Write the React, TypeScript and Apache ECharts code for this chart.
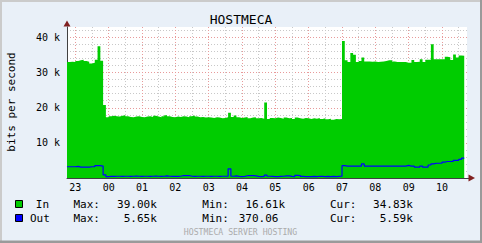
import React, { useEffect, useRef } from 'react';
import * as echarts from 'echarts';

// ---- time slots (5-minute steps from 22:45 to 10:45) ----
const START_MINUTES = 22 * 60 + 45;
const STEP_MINUTES = 5;
const SLOT_COUNT = 145;
const CATEGORIES: string[] = Array.from({ length: SLOT_COUNT }, (_, i) => {
  const m = (START_MINUTES + i * STEP_MINUTES) % (24 * 60);
  return `${String(Math.floor(m / 60)).padStart(2, '0')}:${String(m % 60).padStart(2, '0')}`;
});

const HOUR_LABELS = ['23', '00', '01', '02', '03', '04', '05', '06', '07', '08', '09', '10'];
const Y_LABELS = ['10 k', '20 k', '30 k', '40 k'];
const Y_MAX = 43;

// ---- series values, in k bits per second ----
const IN_K = [
  33.0, 33.1, 33.0, 33.3, 33.5, 33.7, 33.3, 33.1, 32.6, 32.8, 33.7, 37.5, 33.4, 20.8, 17.3,
  17.6, 17.7, 17.6, 17.5, 17.7, 17.9, 17.6, 17.4, 17.3, 17.5, 17.6, 17.4,
  17.3, 17.5, 17.6, 17.4, 17.7, 17.5, 17.3, 17.6, 17.9, 17.6, 17.4, 17.3,
  17.5, 17.4, 17.6, 17.5, 17.3, 17.6, 17.8, 17.5, 17.3, 17.4, 17.2, 17.3,
  17.2, 17.1, 17.3, 17.2, 17.0, 17.1, 17.3, 18.6, 17.4, 17.8, 17.3, 17.1,
  17.2, 17.4, 17.0, 17.2, 17.3, 17.0, 17.1, 16.9, 21.5, 16.8, 17.1, 17.0,
  17.2, 17.1, 16.9, 17.2, 17.0, 17.1, 16.8, 17.2, 17.0, 16.9, 17.1, 17.0,
  16.8, 17.0, 16.9, 17.1, 16.8, 17.0, 16.7, 16.9, 16.61, 16.8, 16.7, 16.8,
  39.0, 33.5, 33.0, 35.6, 35.1, 33.0, 33.3, 34.3, 33.2, 33.2, 33.1, 33.2,
  33.0, 33.1, 33.2, 33.3, 33.5, 33.5, 33.2, 33.0, 33.0, 33.0, 33.0, 32.8,
  32.8, 33.6, 33.0, 33.1, 33.8, 33.0, 33.7, 33.7, 38.1, 33.8, 33.8, 33.8,
  33.8, 34.5, 34.4, 33.6, 35.2, 34.3, 34.9, 34.8, 34.83,
];

const OUT_K = [
  3.2, 3.2, 3.2, 3.3, 3.1, 3.1, 3.1, 3.1, 3.2, 3.2, 3.5, 3.5, 3.4, 0.9, 0.4,
  0.5, 0.45, 0.5, 0.5, 0.45, 0.5, 0.5, 0.45, 0.5, 0.55, 0.5, 0.45,
  0.5, 0.5, 0.45, 0.5, 0.55, 0.5, 0.45, 0.5, 0.6, 0.5, 0.45, 0.5,
  0.45, 0.5, 0.7, 0.7, 0.7, 0.5, 0.45, 0.5, 0.5, 0.45, 0.5, 0.5,
  0.45, 0.5, 0.5, 0.45, 0.5, 0.5, 0.5, 2.6, 0.5, 0.6, 0.45, 0.4,
  0.45, 0.65, 0.65, 0.65, 0.6, 0.45, 0.4, 0.45, 0.8, 0.5, 0.45, 0.4,
  0.4, 0.45, 0.5, 0.6, 0.6, 0.45, 0.4, 0.75, 0.7, 0.45, 0.4, 0.37,
  0.4, 0.45, 0.4, 0.5, 0.45, 0.4, 0.45, 0.4, 0.45, 0.4, 0.45, 0.5,
  3.5, 3.4, 3.4, 3.4, 3.4, 3.4, 3.4, 4.0, 3.4, 3.4, 3.4, 3.4,
  3.4, 3.4, 3.4, 3.4, 3.4, 3.4, 3.4, 3.4, 3.4, 3.4, 3.4, 3.6,
  3.4, 3.4, 3.1, 3.1, 3.4, 3.1, 3.1, 3.7, 4.0, 4.2, 4.2, 4.2,
  4.5, 4.7, 4.7, 4.7, 5.0, 5.0, 5.3, 5.65, 5.59,
];

// ---- legend texts ----
const LEGEND_NAMES = ['In', 'Out'];
const LEGEND_COLORS = ['#00CC00', '#0000FF'];
const MAX_VALUES = ['39.00', '5.65'];
const MAX_UNITS = ['k', 'k'];
const MIN_VALUES = ['16.61', '370.06'];
const MIN_UNITS = ['k', ''];
const CUR_VALUES = ['34.83', '5.59'];
const CUR_UNITS = ['k', 'k'];

const TITLE = 'HOSTMECA';
const Y_TITLE = 'bits per second';
const FOOTER = 'HOSTMECA SERVER HOSTING';

export default function App() {
  const ref = useRef<HTMLDivElement>(null);

  useEffect(() => {
    if (!ref.current) return;
    const chart = echarts.init(ref.current, undefined, { renderer: 'svg' });
    const mono = "'DejaVu Sans Mono', monospace";
    const RED = '#E89A9A';
    const GRAY = '#C8C8C8';
    const AXIS = '#404040';
    const hourIdx = (i: number) => i % 12 === 3;
    const halfIdx = (i: number) => i % 12 === 9;

    const txt = (text: string, x: number, y: number, size: number, align: string, extra: any = {}) => ({
      type: 'text',
      x,
      y,
      silent: true,
      ...extra,
      style: {
        text,
        fill: extra.fill || '#000000',
        fontFamily: mono,
        fontSize: size,
        align,
        textAlign: align,
        verticalAlign: 'middle',
        textVerticalAlign: 'middle',
      },
    });

    const legendEls: any[] = [];
    const rowY = [204, 218];
    LEGEND_NAMES.forEach((name, r) => {
      const y = rowY[r];
      legendEls.push({
        type: 'rect',
        silent: true,
        shape: { x: 15.5, y: y - 3.5, width: 7, height: 7 },
        style: { fill: LEGEND_COLORS[r], stroke: '#000000', lineWidth: 1 },
      });
      legendEls.push(txt(name, r === 0 ? 35.8 : 30, y, 11, 'left'));
      legendEls.push(txt('Max:', 73.5, y, 11, 'left'));
      legendEls.push(txt(MAX_VALUES[r], 150.2, y, 11, 'right'));
      legendEls.push(txt(MAX_UNITS[r], 150.2, y, 11, 'left'));
      legendEls.push(txt('Min:', 202.3, y, 11, 'left'));
      legendEls.push(txt(MIN_VALUES[r], 278.5, y, 11, 'right'));
      legendEls.push(txt(MIN_UNITS[r], 278.5, y, 11, 'left'));
      legendEls.push(txt('Cur:', 330, y, 11, 'left'));
      legendEls.push(txt(CUR_VALUES[r], 406.2, y, 11, 'right'));
      legendEls.push(txt(CUR_UNITS[r], 406.2, y, 11, 'left'));
    });

    const option: any = {
      animation: false,
      backgroundColor: '#E9F0F8',
      grid: {
        left: 67,
        top: 27,
        width: 400,
        height: 151,
        show: true,
        backgroundColor: '#FFFFFF',
        borderWidth: 0,
      },
      xAxis: [
        {
          type: 'category',
          position: 'bottom',
          data: CATEGORIES,
          boundaryGap: false,
          axisLine: { show: false },
          axisTick: { show: false },
          axisLabel: { show: false },
          splitLine: {
            show: true,
            interval: (i: number) => halfIdx(i),
            lineStyle: { color: GRAY, type: [1, 2], width: 1 },
          },
        },
        {
          type: 'category',
          position: 'bottom',
          data: CATEGORIES,
          boundaryGap: false,
          axisLine: { show: true, lineStyle: { color: AXIS, width: 1 } },
          axisTick: { show: false },
          axisLabel: {
            interval: (i: number) => hourIdx(i),
            formatter: (_v: string, i: number) => (hourIdx(i) ? HOUR_LABELS[(i - 3) / 12] : ''),
            fontFamily: mono,
            fontSize: 10,
            color: '#000000',
            margin: 4,
          },
          splitLine: {
            show: true,
            interval: (i: number) => hourIdx(i),
            lineStyle: { color: RED, type: [1, 2], width: 1 },
          },
        },
      ],
      yAxis: [
        {
          type: 'value',
          position: 'left',
          min: 0,
          max: Y_MAX,
          interval: 2,
          axisLine: { show: false },
          axisTick: { show: false },
          axisLabel: { show: false },
          splitLine: {
            show: true,
            showMaxLine: false,
            lineStyle: { color: GRAY, type: [1, 2], width: 1 },
          },
        },
        {
          type: 'value',
          position: 'left',
          min: 0,
          max: Y_MAX,
          interval: 10,
          axisLine: { show: true, lineStyle: { color: AXIS, width: 1 } },
          axisTick: { show: false },
          axisLabel: {
            formatter: (v: number) => (v > 0 && v % 10 === 0 ? Y_LABELS[v / 10 - 1] : ''),
            fontFamily: mono,
            fontSize: 10,
            color: '#000000',
            margin: 7,
          },
          splitLine: {
            show: true,
            showMaxLine: false,
            lineStyle: { color: RED, type: [1, 2], width: 1 },
          },
        },
      ],
      series: [
        {
          type: 'line',
          name: 'In',
          xAxisIndex: 1,
          yAxisIndex: 1,
          data: IN_K,
          step: 'end',
          symbol: 'none',
          silent: true,
          lineStyle: { width: 0, color: '#00CC00' },
          itemStyle: { color: '#00CC00' },
          areaStyle: { color: '#00CC00', opacity: 1 },
          z: 2,
        },
        {
          type: 'line',
          name: 'Out',
          xAxisIndex: 1,
          yAxisIndex: 1,
          data: OUT_K,
          step: 'end',
          symbol: 'none',
          silent: true,
          lineStyle: { width: 1.2, color: '#0000FF' },
          itemStyle: { color: '#0000FF' },
          z: 3,
        },
      ],
      graphic: [
        { type: 'rect', silent: true, shape: { x: 0, y: 0, width: 482, height: 2 }, style: { fill: '#CBCBCB' } },
        { type: 'rect', silent: true, shape: { x: 0, y: 0, width: 2, height: 243 }, style: { fill: '#CBCBCB' } },
        { type: 'rect', silent: true, shape: { x: 0, y: 240.5, width: 482, height: 2.5 }, style: { fill: '#9A9A9A' } },
        { type: 'rect', silent: true, shape: { x: 480, y: 0, width: 2, height: 243 }, style: { fill: '#9A9A9A' } },
        txt(TITLE, 241, 19.5, 13, 'center'),
        txt(Y_TITLE, 11, 102, 11, 'center', { rotation: Math.PI / 2 }),
        {
          type: 'line',
          silent: true,
          shape: { x1: 467, y1: 178.5, x2: 469, y2: 178.5 },
          style: { stroke: AXIS, lineWidth: 1 },
        },
        {
          type: 'polygon',
          silent: true,
          shape: { points: [[63.5, 26.5], [70.5, 26.5], [67, 20.5]] },
          style: { fill: '#802020' },
        },
        {
          type: 'polygon',
          silent: true,
          shape: { points: [[468.5, 174.5], [468.5, 181.5], [475, 178]] },
          style: { fill: '#802020' },
        },
        ...legendEls,
        txt(FOOTER, 240.5, 232.2, 8.2, 'center', { fill: '#ABABAB' }),
      ],
    };

    chart.setOption(option);
    return () => chart.dispose();
  }, []);

  return <div ref={ref} style={{ position: 'absolute', left: 0, top: 0, width: 482, height: 243 }} />;
}
